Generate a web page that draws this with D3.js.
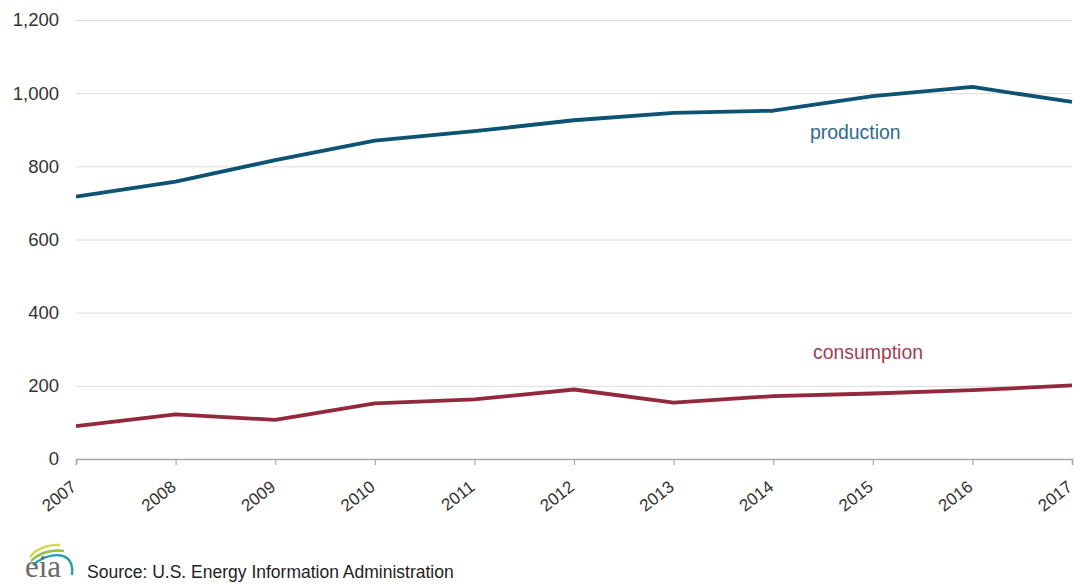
<!DOCTYPE html>
<html>
<head>
<meta charset="utf-8">
<script src="https://cdn.jsdelivr.net/npm/d3@7"></script>
<style>
  html, body { margin: 0; padding: 0; background: #fff; }
  svg { display: block; font-family: "Liberation Sans", Arial, sans-serif; }
</style>
</head>
<body>
<svg id="chart" width="1083" height="584"></svg>
<script>
// Annual values, 2007-2017
const years = [2007, 2008, 2009, 2010, 2011, 2012, 2013, 2014, 2015, 2016, 2017];
const production = [717, 758, 817, 870, 896, 926, 946, 952, 992, 1017, 976];
const consumption = [90, 122, 107, 152, 163, 190, 154, 172, 179, 188, 201];
const yTicks = [0, 200, 400, 600, 800, 1000, 1200];
const seriesNames = ["production", "consumption"];
const sourceText = "Source: U.S. Energy Information Administration";

const svg = d3.select("#chart");
const margin = { left: 76, right: 11, top: 20, bottom: 125 };
const W = 1083, H = 584;
const FONT = "'Liberation Sans', Arial, sans-serif";

const x = d3.scaleLinear()
  .domain([years[0], years[years.length - 1]])
  .range([margin.left, W - margin.right]);
const y = d3.scaleLinear()
  .domain([0, 1200])
  .range([H - margin.bottom, margin.top]);

// horizontal gridlines
const grid = svg.append("g")
  .attr("transform", `translate(${margin.left},0)`)
  .call(d3.axisLeft(y).tickValues(yTicks.filter(v => v > 0))
    .tickSize(-(W - margin.left - margin.right)).tickFormat(""));
grid.select(".domain").remove();
grid.selectAll("line").attr("stroke", "#dcdcdc").attr("stroke-width", 1);

// y tick labels
const yAxis = svg.append("g")
  .attr("transform", `translate(${margin.left},0)`)
  .call(d3.axisLeft(y).tickValues(yTicks).tickSize(0).tickPadding(17)
    .tickFormat(d3.format(",")));
yAxis.select(".domain").remove();
yAxis.selectAll("text")
  .attr("font-size", 18.5)
  .attr("fill", "#333")
  .style("font-family", FONT);

// x axis with rotated year labels
const xAxis = svg.append("g")
  .attr("transform", `translate(0,${y(0)})`)
  .call(d3.axisBottom(x).tickValues(years).tickSize(6).tickFormat(d3.format("d")));
xAxis.select(".domain").attr("stroke", "#a8a8a8").attr("stroke-width", 1.5);
xAxis.selectAll(".tick line").attr("stroke", "#a8a8a8").attr("stroke-width", 1.2);
xAxis.selectAll("text")
  .attr("font-size", 17)
  .attr("fill", "#333")
  .style("font-family", FONT)
  .attr("text-anchor", "end")
  .attr("x", 0).attr("y", 0).attr("dy", 0)
  .attr("transform", "translate(1,30) rotate(-38)");

// series lines
const line = vals => d3.line()
  .x((d, i) => x(years[i]))
  .y(d => y(d))(vals);

svg.append("path")
  .attr("d", line(production))
  .attr("fill", "none")
  .attr("stroke", "#0e5274")
  .attr("stroke-width", 3.8)
  .attr("stroke-linejoin", "round");

svg.append("path")
  .attr("d", line(consumption))
  .attr("fill", "none")
  .attr("stroke", "#94283c")
  .attr("stroke-width", 3.8)
  .attr("stroke-linejoin", "round");

// inline series labels
svg.append("text")
  .attr("x", 810).attr("y", 139)
  .attr("font-size", 19.4).attr("fill", "#2d6b8b")
  .text(seriesNames[0]);
svg.append("text")
  .attr("x", 813).attr("y", 359)
  .attr("font-size", 19.4).attr("fill", "#a03e50")
  .text(seriesNames[1]);

// EIA logo: three swooshes over the lettering
const logo = svg.append("g").attr("transform", "translate(24,540)");
logo.append("path")
  .attr("d", "M6,17 C12,9 24,4 36,5")
  .attr("fill", "none").attr("stroke", "#d4d64a").attr("stroke-width", 2.4);
logo.append("path")
  .attr("d", "M7,21 C15,13 28,9 40,11")
  .attr("fill", "none").attr("stroke", "#8cc152").attr("stroke-width", 2.4);
logo.append("path")
  .attr("d", "M9,25 C19,16 35,12 43,18 C48,22 49,28 48,35")
  .attr("fill", "none").attr("stroke", "#1f9fb4").attr("stroke-width", 2.4);
logo.append("text")
  .attr("x", 1).attr("y", 37)
  .attr("font-size", 31)
  .attr("fill", "#6b6b6b")
  .style("font-family", "'Liberation Serif', 'DejaVu Serif', serif")
  .text("eia");

// source note
svg.append("text")
  .attr("x", 87).attr("y", 578)
  .attr("font-size", 17.5)
  .attr("fill", "#222")
  .text(sourceText);
</script>
</body>
</html>
